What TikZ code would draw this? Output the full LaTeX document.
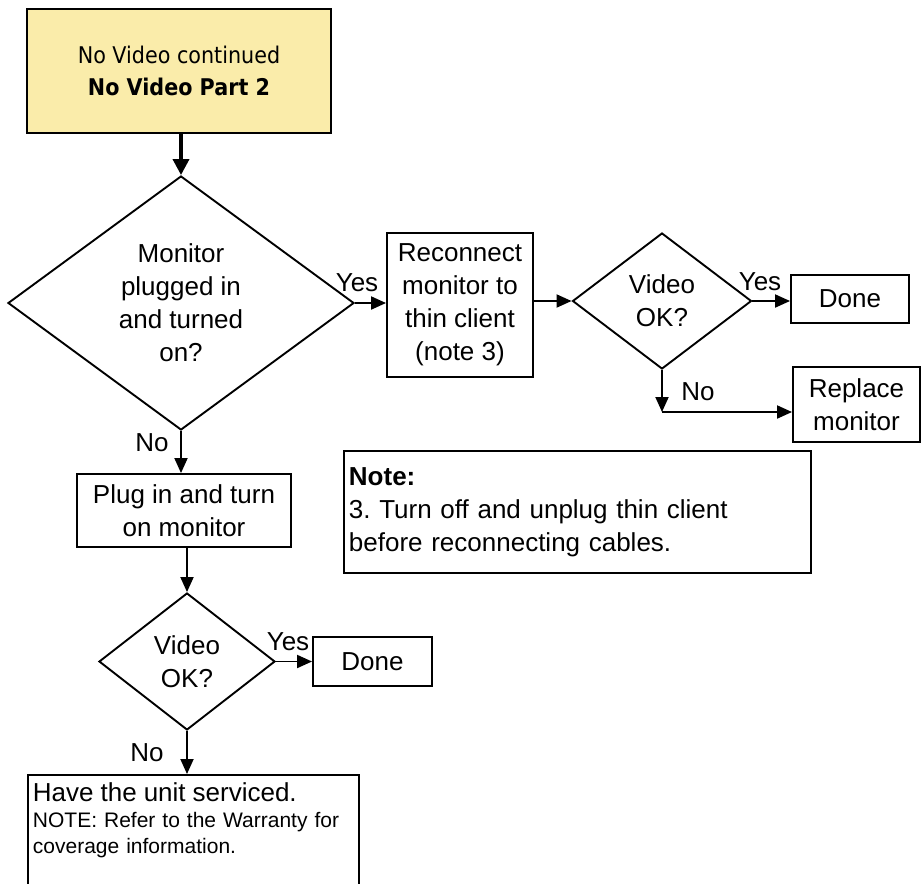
\documentclass[tikz,border=0pt]{standalone}
\usepackage{fontspec}
\setmainfont{Liberation Sans}
\newfontfamily\titlefont[FakeStretch=0.9]{DejaVu Sans}
\usetikzlibrary{backgrounds,arrows.meta,shapes.geometric}
\definecolor{xyellow}{RGB}{250,236,170}
\frenchspacing

\begin{document}
\begin{tikzpicture}[x=1pt, y=-1pt, line width=1.9pt,
		every node/.style={font=\fontsize{26}{33}\selectfont, align=center, inner sep=0pt},
		box/.style={draw, rectangle},
		decide/.style={draw, diamond},
		arr/.style={->, line width=1.9pt, >={Triangle[length=15pt, width=13pt]}}]
			\useasboundingbox (0,0) rectangle (922,884);
			\node[box, fill=xyellow, line width=2.2pt, minimum width=304pt, minimum height=124pt, font=\titlefont\fontsize{23}{32}\selectfont] at (179,71) (start) {No Video continued\\\textbf{No Video Part 2}};
			\node[decide, aspect=1.36, minimum width=346pt, minimum height=254pt] at (181,303) (plugq) {Monitor\\plugged in\\and turned\\on?};
			\node[box, minimum width=146pt, minimum height=144pt] at (460,305) (reconnect) {Reconnect\\monitor to\\thin client\\(note 3)};
			\node[decide, aspect=1.32, minimum width=179pt, minimum height=136pt] at (662,301) (videoq) {Video\\OK?};
			\node[box, minimum width=118pt, minimum height=48pt] at (850,299) (done) {Done};
			\node[box, minimum width=127pt, minimum height=75pt] at (856.5,404.5) (replace) {Replace\\monitor};
			\coordinate (turn) at (662,412);
			\begin{scope}[on background layer]
				\draw[arr, line width=3.6pt, >={Triangle[length=16pt, width=16pt]}] (plugq.north |- start.south) -- (plugq.north);
				\draw[arr] (plugq.east) -- (plugq.east -| reconnect.west);
				\draw[arr] (reconnect.east |- videoq.west) -- (videoq.west);
				\draw[arr] (videoq.east) -- (videoq.east -| done.west);
				\draw[arr] (videoq.south) -- (turn);
				\draw[arr] (turn) -- (turn -| replace.west);
			\end{scope}
			\node at (357,283) (yes1) {Yes};
			\node at (760,282) (yes2) {Yes};
			\node at (698,392) (no2) {No};
			\node[box, anchor=north west, minimum width=467pt, minimum height=122pt, text width=457pt, inner xsep=5pt, align=left] at (343,450) (note) {\textbf{Note:}\\3. Turn off and unplug thin client\\before reconnecting cables.};
			\node[box, minimum width=214pt, minimum height=73pt] at (184,510.5) (plugin) {Plug in and turn\\on monitor};
			\node[decide, aspect=1.28, minimum width=176pt, minimum height=137pt] at (187,661.5) (videoq2) {Video\\OK?};
			\node[box, minimum width=119pt, minimum height=49pt] at (372.5,661.5) (done2) {Done};
			\node[box, anchor=north west, minimum width=331pt, minimum height=130pt,
				label={[anchor=north west, xshift=5pt, yshift=-8pt, text width=320pt, align=left, font=\fontsize{21}{26}\selectfont]north west:{{\fontsize{26}{30}\selectfont Have the unit serviced.}\\NOTE: Refer to the Warranty for\\coverage information.}}] at (27,774) (service) {};
			\begin{scope}[on background layer]
				\draw[arr] (plugq.south) -- (plugq.south |- plugin.north);
				\draw[arr] (videoq2.north |- plugin.south) -- (videoq2.north);
				\draw[arr] (videoq2.east) -- (videoq2.east -| done2.west);
				\draw[arr] (videoq2.south) -- (videoq2.south |- service.north);
			\end{scope}
			\node at (152,443) (no1) {No};
			\node at (288,642) (yes3) {Yes};
			\node at (147,753) (no3) {No};
		\end{tikzpicture}
\end{document}
